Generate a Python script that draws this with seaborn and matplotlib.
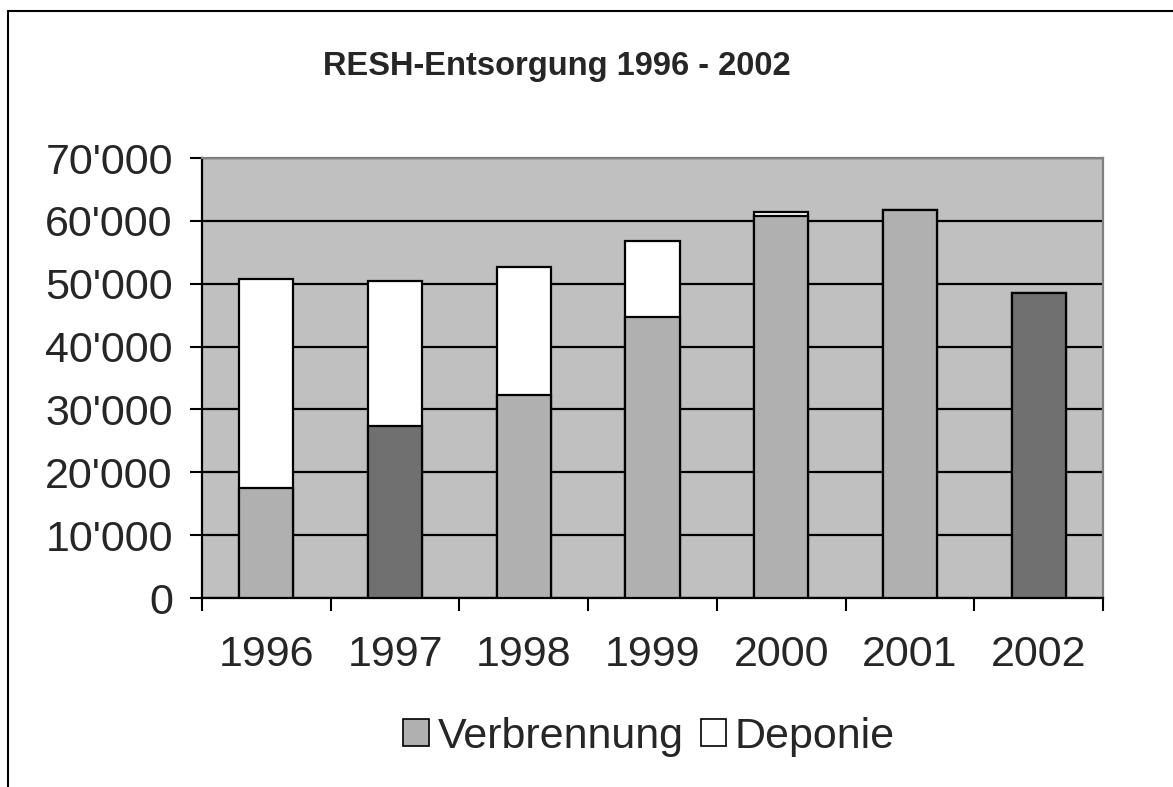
import matplotlib
matplotlib.use("Agg")
import matplotlib.pyplot as plt
from matplotlib.lines import Line2D
from matplotlib.patches import Patch
from matplotlib.ticker import FuncFormatter, FixedLocator
import pandas as pd
import seaborn as sns

years = ['1996', '1997', '1998', '1999', '2000', '2001', '2002']
verbrennung = [17500, 27300, 32300, 44700, 60700, 61800, 48500]
deponie = [33200, 23100, 20400, 12100, 700, 0, 0]
bar_colors = ['#b0b0b0', '#707070', '#b0b0b0', '#b0b0b0', '#b0b0b0', '#b0b0b0', '#707070']

sns.set_theme(style="white")
plt.rcParams['font.family'] = ['Liberation Sans', 'DejaVu Sans']

df = pd.DataFrame({'Jahr': years, 'Verbrennung': verbrennung, 'Deponie': deponie})
df['Total'] = df['Verbrennung'] + df['Deponie']

fig = plt.figure(figsize=(11.73, 7.87), dpi=100)
ax = fig.add_axes([202 / 1173, 1 - 598 / 787, 901 / 1173, 440 / 787])
ax.set_facecolor('#c0c0c0')

# Deponie sits on top of Verbrennung: draw totals in white, then Verbrennung over it
sns.barplot(data=df, x='Jahr', y='Total', color='white', width=0.42,
            edgecolor='black', linewidth=1.6, saturation=1, ax=ax, zorder=3)
sns.barplot(data=df, x='Jahr', y='Verbrennung', hue='Jahr', palette=bar_colors,
            width=0.42, edgecolor='black', linewidth=1.6, saturation=1,
            legend=False, ax=ax, zorder=3)

ax.set_ylim(0, 70000)
ax.set_xlim(-0.5, 6.5)
ax.yaxis.set_major_locator(FixedLocator(range(0, 70001, 10000)))
ax.yaxis.set_major_formatter(FuncFormatter(lambda v, p: f"{int(v):,}".replace(',', "'")))
ax.grid(axis='y', color='black', linewidth=1.6, zorder=1)
ax.set_axisbelow(True)
ax.set_xlabel('')
ax.set_ylabel('')

# x ticks between categories, labels centered on the bars
ax.set_xticks([i - 0.5 for i in range(8)])
ax.set_xticklabels([])
ax.set_xticks(range(7), minor=True)
ax.set_xticklabels(years, minor=True)
ax.tick_params(axis='x', which='major', direction='out', length=9, width=1.5, color='black', bottom=True)
ax.tick_params(axis='x', which='minor', length=0, pad=27, labelsize=31)
ax.tick_params(axis='y', direction='out', length=9, width=1.5, color='black', left=True, pad=12, labelsize=31)

for s in ['left', 'bottom']:
    ax.spines[s].set_color('black')
    ax.spines[s].set_linewidth(1.6)
for s in ['top', 'right']:
    ax.spines[s].set_color('#808080')
    ax.spines[s].set_linewidth(1.6)

fig.text(557 / 1173, 1 - 66 / 787, 'RESH-Entsorgung 1996 - 2002', ha='center', va='center',
         fontsize=23.5, fontweight='bold')

handles = [Patch(facecolor='#b0b0b0', edgecolor='black', linewidth=1.2, label='Verbrennung'),
           Patch(facecolor='white', edgecolor='black', linewidth=1.2, label='Deponie')]
fig.legend(handles=handles, loc='center', bbox_to_anchor=(649 / 1173, 1 - 737 / 787), ncol=2,
           frameon=False, fontsize=31, handlelength=0.6, handleheight=0.6,
           handletextpad=0.2, columnspacing=0.4)

# outer chart frame (left and top edges visible)
fig.add_artist(Line2D([8 / 1173, 8 / 1173], [0, 1 - 11 / 787], color='black', linewidth=1.5,
                      transform=fig.transFigure))
fig.add_artist(Line2D([8 / 1173, 1], [1 - 11 / 787, 1 - 11 / 787], color='black', linewidth=1.5,
                      transform=fig.transFigure))

fig.savefig('out.png', dpi=100)
